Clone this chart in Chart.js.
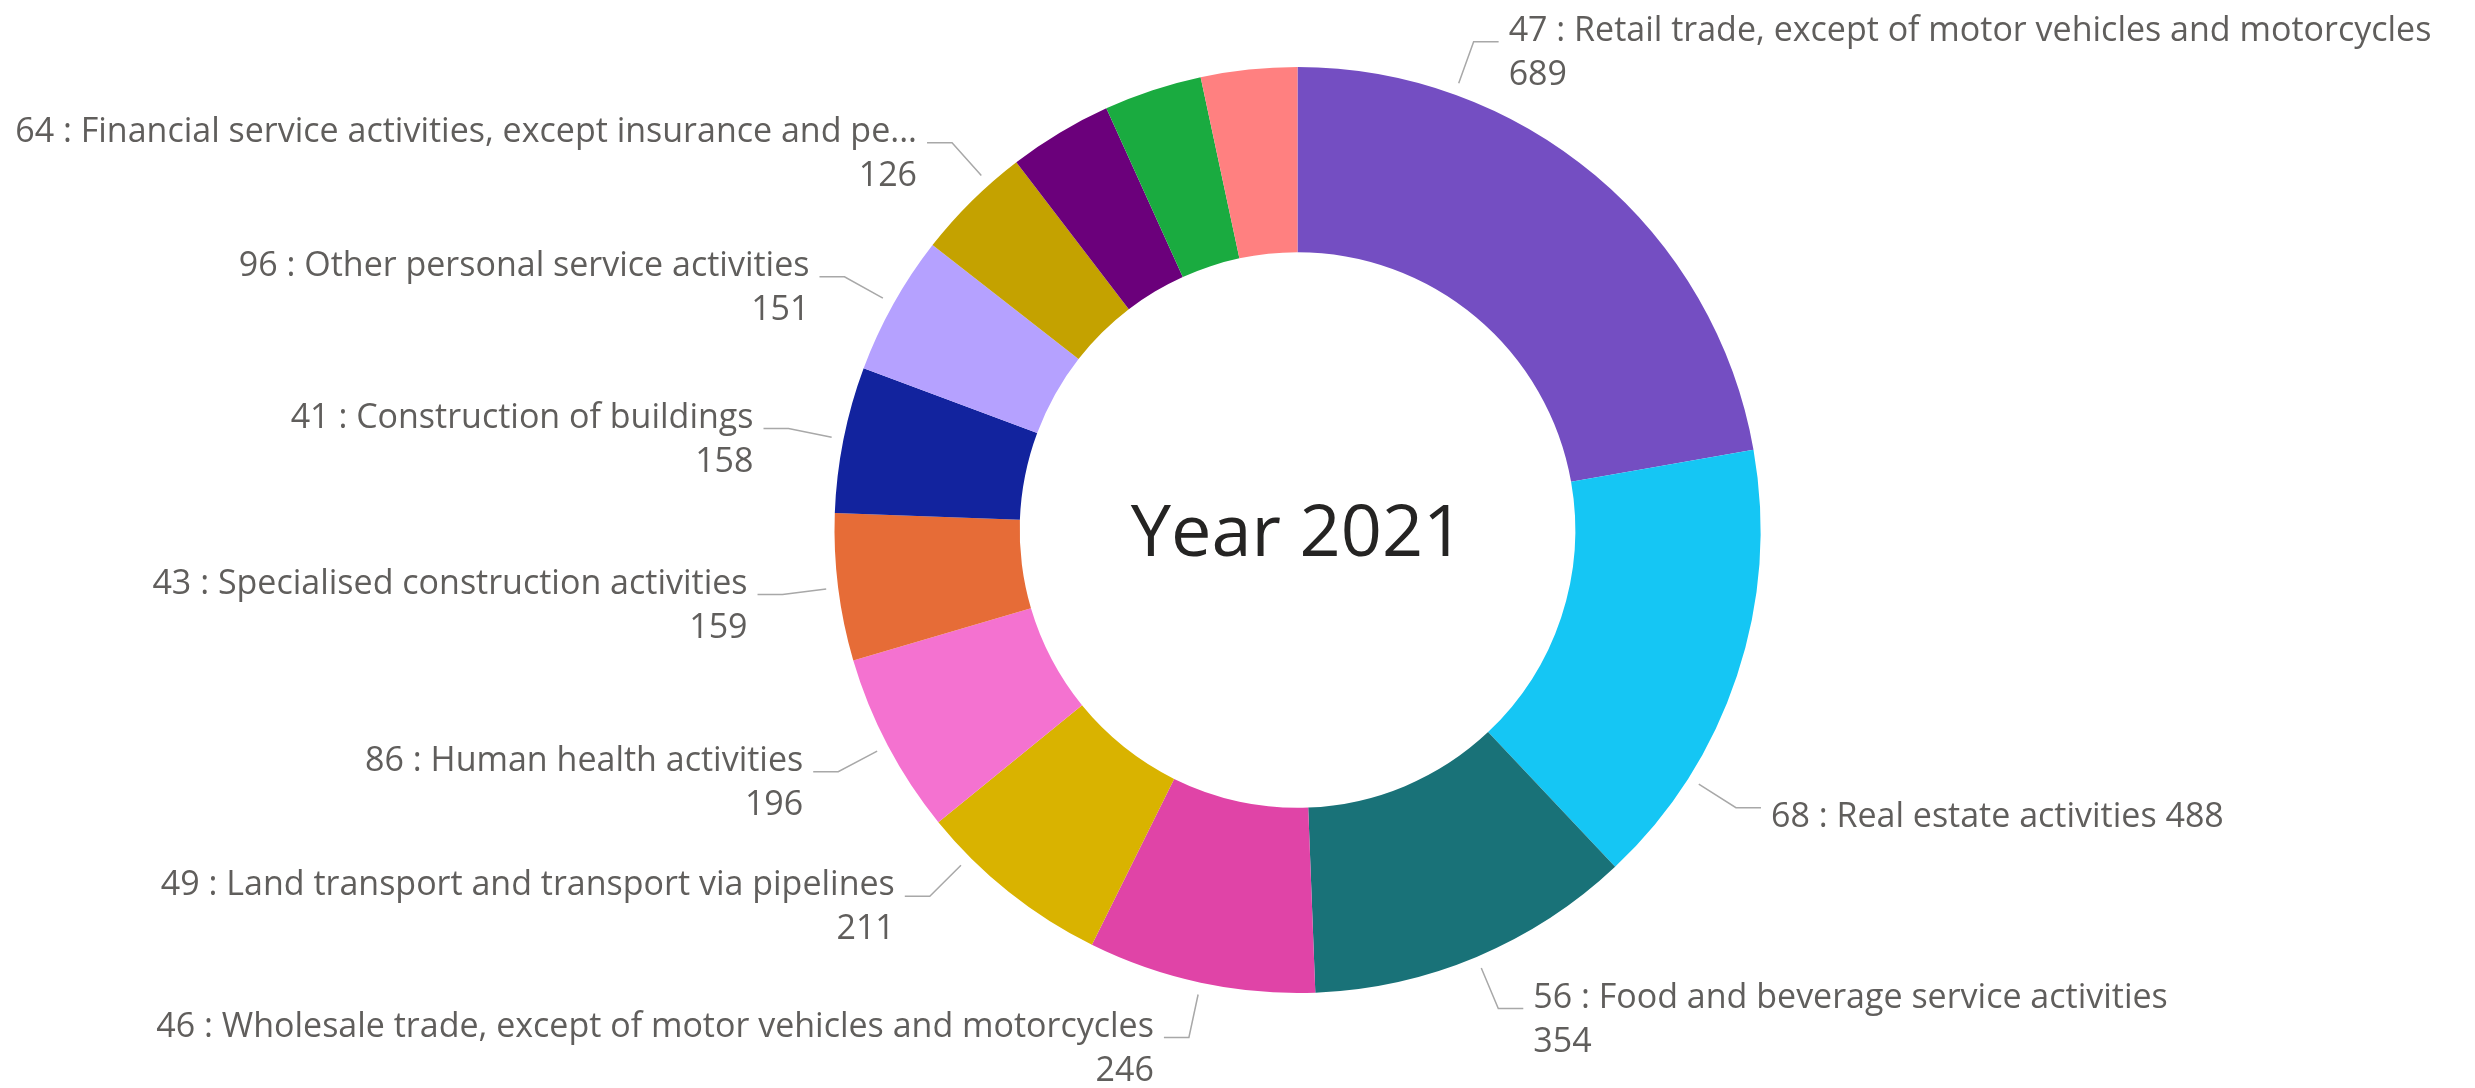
<!DOCTYPE html>
<html>
<head>
<meta charset="utf-8">
<title>Year 2021</title>
<script src="https://cdn.jsdelivr.net/npm/chart.js@4.4.0/dist/chart.umd.min.js"></script>
<style>
  html, body { margin: 0; padding: 0; background: #fff; }
  #wrap { width: 2475px; height: 1088px; position: relative; }
</style>
</head>
<body>
<div id="wrap"><canvas id="chart"></canvas></div>
<script>
// slices, clockwise from 12 o'clock (last three are too small to get a label)
const categories = [
    '47 : Retail trade, except of motor vehicles and motorcycles',
    '68 : Real estate activities',
    '56 : Food and beverage service activities',
    '46 : Wholesale trade, except of motor vehicles and motorcycles',
    '49 : Land transport and transport via pipelines',
    '86 : Human health activities',
    '43 : Specialised construction activities',
    '41 : Construction of buildings',
    '96 : Other personal service activities',
    '64 : Financial service activities, except insurance and pe...',
    '',
    '',
    ''
];
const values = [689, 488, 354, 246, 211, 196, 159, 158, 151, 126, 112, 106, 104];
const colors = ['#744EC2', '#15C6F4', '#197278', '#E044A7', '#D9B300', '#F472D0', '#E66C37',
                '#12239E', '#B5A1FF', '#C4A200', '#6B007B', '#1AAB40', '#FF8080'];
const centerTitle = 'Year 2021';
// labels where the value sits on the same line as the name
const inlineValue = ['68 : Real estate activities'];
// leader lines that are turned a little away from the slice middle (degrees, clockwise)
const leaderTurn = { '68 : Real estate activities': 14, '49 : Land transport and transport via pipelines': 6.5 };

const labelFont = '34px "Open Sans"';
const labelColor = '#605E5C';
const leaderColor = '#A8A8A8';

const outsideLabels = {
    id: 'outsideLabels',
    afterDatasetsDraw(chart) {
        const ctx = chart.ctx;
        const meta = chart.getDatasetMeta(0);
        const W = chart.width;
        ctx.save();

        meta.data.forEach((arc, i) => {
            const name = categories[i];
            if (!name) return;
            const p = arc.getProps(['x', 'y', 'startAngle', 'endAngle', 'outerRadius'], true);
            ctx.font = labelFont;
            const lines = inlineValue.includes(name) ? [name + ' ' + values[i]] : [name, String(values[i])];
            const textW = Math.max(...lines.map(l => ctx.measureText(l).width));

            let a = (p.startAngle + p.endAngle) / 2 + (leaderTurn[name] || 0) * Math.PI / 180;
            const right = Math.cos(a) >= 0;
            const geom = ang => {
                const sx = p.x + Math.cos(ang) * (p.outerRadius + 12);
                const sy = p.y + Math.sin(ang) * (p.outerRadius + 12);
                const ex = p.x + Math.cos(ang) * (p.outerRadius + 56);
                const ey = p.y + Math.sin(ang) * (p.outerRadius + 56);
                const hx = right ? ex + 25 : ex - 25;
                const tx = right ? hx + 10 : hx - 10;
                return { sx, sy, ex, ey, hx, tx };
            };
            let g = geom(a);
            // turn the label toward the top until the text fits in the canvas
            for (let k = 0; k < 150; k++) {
                const fits = right ? g.tx + textW <= W - 42 : g.tx - textW >= 14;
                if (fits) break;
                a += right ? -0.004 : 0.004;
                g = geom(a);
            }

            ctx.strokeStyle = leaderColor;
            ctx.lineWidth = 1.5;
            ctx.beginPath();
            ctx.moveTo(g.sx, g.sy);
            ctx.lineTo(g.ex, g.ey);
            ctx.lineTo(g.hx, g.ey);
            ctx.stroke();

            ctx.fillStyle = labelColor;
            ctx.textAlign = right ? 'left' : 'right';
            ctx.textBaseline = 'alphabetic';
            if (lines.length === 1) {
                ctx.fillText(lines[0], g.tx, g.ey + 19);
            } else {
                ctx.fillText(lines[0], g.tx, g.ey - 1);
                ctx.fillText(lines[1], g.tx, g.ey + 43);
            }
        });

        // title in the hole
        const c = meta.data[0].getProps(['x', 'y'], true);
        ctx.font = '72px "Open Sans"';
        ctx.fillStyle = '#252423';
        ctx.textAlign = 'center';
        ctx.textBaseline = 'alphabetic';
        ctx.fillText(centerTitle, c.x, c.y + 26);
        ctx.restore();
    }
};

new Chart(document.getElementById('chart'), {
    type: 'doughnut',
    data: {
        labels: categories,
        datasets: [{
            data: values,
            backgroundColor: colors,
            borderWidth: 0
        }]
    },
    options: {
        responsive: true,
        maintainAspectRatio: false,
        animation: false,
        cutout: '60%',
        layout: { padding: { left: 120, right: 0, top: 67, bottom: 95 } },
        plugins: {
            legend: { display: false },
            tooltip: { enabled: false }
        }
    },
    plugins: [outsideLabels]
});
</script>
</body>
</html>
